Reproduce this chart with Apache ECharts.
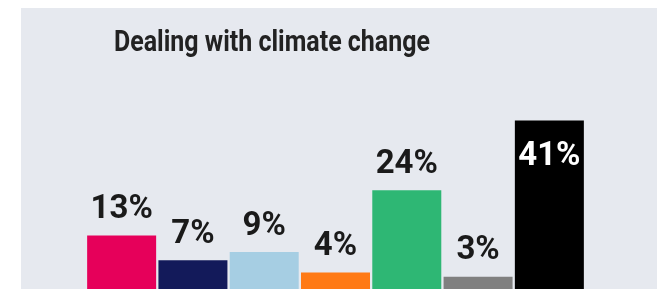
<!DOCTYPE html>
<html>
<head>
<meta charset="utf-8">
<script src="https://cdn.jsdelivr.net/npm/echarts@6/dist/echarts.min.js"></script>
<style>
  html, body { margin: 0; padding: 0; background: #fff; }
  #chart { width: 657px; height: 289px; }
</style>
</head>
<body>
<div id="chart"></div>
<script>
// answers, no visible category names in the source
var categories = ['a', 'b', 'c', 'd', 'e', 'f', 'g'];
var values = [13, 7, 9, 4, 24, 3, 41];
var barColors = ['#e6005a', '#131a5a', '#a6cee3', '#ff7a15', '#2eb774', '#808080', '#000000'];
var titleText = 'Dealing with climate change';

var myChart = echarts.init(document.getElementById('chart'));

// the title in the source uses a condensed face; squeeze Roboto to the same width
var titleFont = 'bold 29px Roboto';
var ctx = document.createElement('canvas').getContext('2d');
ctx.font = titleFont;
var titleScale = 316 / ctx.measureText(titleText).width;

var barData = [];
for (var i = 0; i < values.length; i++) {
    var item = {
        value: values[i],
        itemStyle: { color: barColors[i] }
    };
    // the tallest bar carries its label inside, in white
    if (i === values.length - 1) {
        item.label = {
            position: 'insideTop',
            distance: 20,
            color: '#fff'
        };
    }
    barData.push(item);
}

var option = {
    backgroundColor: '#fff',
    animation: false,
    graphic: [
        {
            type: 'rect',
            z: -10,
            shape: { x: 21, y: 8, width: 640, height: 290 },
            style: { fill: '#e6e9ef' }
        },
        {
            type: 'text',
            x: 114,
            y: 29,
            scaleX: titleScale,
            style: {
                text: titleText,
                font: titleFont,
                fill: '#222',
                verticalAlign: 'top'
            }
        }
    ],
    grid: {
        left: 86,
        width: 499,
        top: 104,
        height: 188
    },
    xAxis: {
        type: 'category',
        data: categories,
        show: false
    },
    yAxis: {
        type: 'value',
        min: 0,
        max: 45,
        show: false
    },
    series: [
        {
            type: 'bar',
            barWidth: 69,
            data: barData,
            label: {
                show: true,
                position: 'top',
                distance: 9,
                formatter: '{c}%',
                color: '#1a1a1a',
                fontFamily: 'Roboto',
                fontWeight: 'bold',
                fontSize: 33
            }
        }
    ]
};
myChart.setOption(option);
</script>
</body>
</html>
